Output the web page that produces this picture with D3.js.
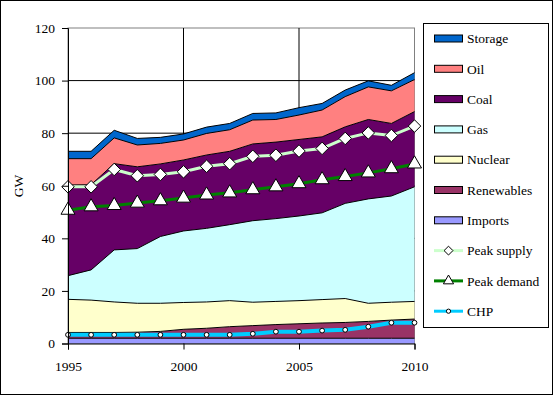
<!DOCTYPE html>
<html>
<head>
<meta charset="utf-8">
<script src="https://cdn.jsdelivr.net/npm/d3@7"></script>
<style>
  body { margin: 0; background: #fff; }
</style>
</head>
<body>
<div id="chart"></div>
<script>
// data (GW)
const years = [1995,1996,1997,1998,1999,2000,2001,2002,2003,2004,2005,2006,2007,2008,2009,2010];

const imports    = [2.0,2.0,2.0,2.0,2.0,2.0,2.0,2.0,2.0,2.0,2.0,2.0,2.0,2.0,2.0,2.0];
const renewables = [2.2,2.2,2.2,2.3,2.6,3.4,3.8,4.4,4.8,5.2,5.5,5.8,6.0,6.4,6.9,7.3];
const nuclear    = [12.6,12.3,11.6,11.0,10.7,10.2,10.0,9.9,8.9,8.8,8.8,8.9,9.1,6.9,6.8,6.7];
const gas        = [9.0,11.5,19.8,20.8,25.4,27.2,28.0,28.9,31.0,31.5,32.2,33.0,36.2,39.7,40.4,43.6];
const coal       = [34.5,32.4,32.8,31.1,27.6,27.0,27.9,27.9,29.2,29.1,29.1,28.9,29.1,30.2,27.6,28.6];
const oil        = [10.0,9.9,9.8,8.3,7.8,7.6,8.2,8.2,9.1,8.6,9.3,10.2,11.5,12.4,12.4,12.2];
const storage    = [2.8,2.8,2.9,2.5,2.3,2.3,2.4,2.4,2.5,2.5,2.8,2.5,2.5,2.3,2.1,2.6];

const peakSupply = [59.6,59.6,66.2,63.8,64.3,65.3,67.4,68.4,71.2,71.6,73.2,74.2,78.0,80.1,79.1,82.7];
const peakDemand = [50.7,52.0,52.5,53.4,54.3,55.3,56.5,57.3,58.5,59.6,60.8,62.3,63.5,64.9,66.5,68.3];
const chp        = [3.3,3.3,3.3,3.3,3.3,3.3,3.3,3.3,3.7,4.5,4.5,4.9,5.2,6.4,7.9,7.9];

const yTicks = [0,20,40,60,80,100,120];
const xTicks = [1995,2000,2005,2010];

const layerNames = ['Imports','Renewables','Nuclear','Gas','Coal','Oil','Storage'];
const layerColors = {
    Imports: '#9999ff', Renewables: '#993366', Nuclear: '#ffffcc', Gas: '#ccffff',
    Coal: '#660066', Oil: '#ff8080', Storage: '#0066cc'
};

const table = years.map((yr, i) => ({
    year: yr, Imports: imports[i], Renewables: renewables[i], Nuclear: nuclear[i],
    Gas: gas[i], Coal: coal[i], Oil: oil[i], Storage: storage[i]
}));

var W = 553, H = 395;
var svg = d3.select('#chart').append('svg')
    .attr('width', W)
    .attr('height', H)
    .attr('font-family', 'Liberation Serif')
    .attr('font-size', 13.5);

// outer frame
svg.append('rect')
    .attr('x', 0.5).attr('y', 0.5)
    .attr('width', W - 1).attr('height', H - 1)
    .attr('fill', '#fff').attr('stroke', '#000');

var x = d3.scaleLinear().domain([1995, 2010]).range([68, 414.5]);
var y = d3.scaleLinear().domain([0, 120]).range([343.5, 28]);

// plot border (grey top/right)
svg.append('rect')
    .attr('x', x(1995)).attr('y', y(120))
    .attr('width', x(2010) - x(1995)).attr('height', y(0) - y(120))
    .attr('fill', 'none').attr('stroke', '#808080');

// gridlines
svg.append('g').selectAll('line')
    .data(yTicks.filter(d => d > 0 && d < 120))
    .enter().append('line')
      .attr('x1', x(1995)).attr('x2', x(2010))
      .attr('y1', d => y(d)).attr('y2', d => y(d))
      .attr('stroke', '#000');
svg.append('g').selectAll('line')
    .data(xTicks.filter(d => d > 1995 && d < 2010))
    .enter().append('line')
      .attr('x1', d => x(d)).attr('x2', d => x(d))
      .attr('y1', y(0)).attr('y2', y(120))
      .attr('stroke', '#000');

// stacked areas
var series = d3.stack().keys(layerNames)(table);

var area = d3.area()
    .x(d => x(d.data.year))
    .y0(d => y(d[0]))
    .y1(d => y(d[1]));
var topLine = d3.line()
    .x(d => x(d.data.year))
    .y(d => y(d[1]));

svg.append('g').selectAll('path')
    .data(series)
    .enter().append('path')
      .attr('d', area)
      .attr('fill', d => layerColors[d.key]);

svg.append('g').selectAll('path')
    .data(series)
    .enter().append('path')
      .attr('d', topLine)
      .attr('fill', 'none')
      .attr('stroke', '#000')
      .attr('stroke-width', 1);

// lines with markers
function drawLine(values, color, width) {
    var line = d3.line()
        .x((d, i) => x(years[i]))
        .y(d => y(d));
    svg.append('path')
        .datum(values)
        .attr('d', line)
        .attr('fill', 'none')
        .attr('stroke', color)
        .attr('stroke-width', width);
}

function drawMarkers(values, symbolType, size) {
    svg.append('g').selectAll('path')
        .data(values)
        .enter().append('path')
          .attr('d', d3.symbol().type(symbolType).size(size))
          .attr('transform', (d, i) => `translate(${x(years[i])},${y(d)})`)
          .attr('fill', '#fff')
          .attr('stroke', '#000')
          .attr('stroke-width', 1);
}

drawLine(peakSupply, '#ccffcc', 3);
drawMarkers(peakSupply, d3.symbolDiamond2, 100);
drawLine(peakDemand, '#008000', 3);
drawMarkers(peakDemand, d3.symbolTriangle, 85);
drawLine(chp, '#00ccff', 4);
drawMarkers(chp, d3.symbolCircle, 18);

// axes
var yAxis = svg.append('g')
    .attr('transform', `translate(${x(1995)},0)`)
    .call(d3.axisLeft(y).tickValues(yTicks).tickSize(6).tickPadding(7));
var xAxis = svg.append('g')
    .attr('transform', `translate(0,${y(0)})`)
    .call(d3.axisBottom(x).tickValues(xTicks).tickFormat(d3.format('d')).tickSize(6).tickPadding(12));
[yAxis, xAxis].forEach(a => {
    a.attr('font-size', null).attr('font-family', null);
    a.selectAll('path,line').attr('stroke', '#000');
    a.selectAll('text').attr('fill', '#000');
});

svg.append('text')
    .attr('transform', 'translate(23,186) rotate(-90)')
    .attr('text-anchor', 'middle')
    .text('GW');

// legend
var legendItems = [
    { name: 'Storage', type: 'area' },
    { name: 'Oil', type: 'area' },
    { name: 'Coal', type: 'area' },
    { name: 'Gas', type: 'area' },
    { name: 'Nuclear', type: 'area' },
    { name: 'Renewables', type: 'area' },
    { name: 'Imports', type: 'area' },
    { name: 'Peak supply', type: 'line', color: '#ccffcc', sym: d3.symbolDiamond2, size: 50, w: 3 },
    { name: 'Peak demand', type: 'line', color: '#008000', sym: d3.symbolTriangle, size: 45, w: 3 },
    { name: 'CHP', type: 'line', color: '#00ccff', sym: d3.symbolCircle, size: 14, w: 3 }
];

svg.append('rect')
    .attr('x', 423.5).attr('y', 23.5)
    .attr('width', 125).attr('height', 304)
    .attr('fill', '#fff').attr('stroke', '#000');

var lg = svg.append('g').selectAll('g')
    .data(legendItems)
    .enter().append('g')
      .attr('transform', (d, i) => `translate(434,${38.5 + i * 30.3})`);

lg.filter(d => d.type === 'area').append('rect')
    .attr('x', 0.5).attr('y', -3.5)
    .attr('width', 28).attr('height', 7)
    .attr('fill', d => layerColors[d.name])
    .attr('stroke', '#000');

lg.filter(d => d.type === 'line').append('line')
    .attr('x1', 0).attr('x2', 29)
    .attr('y1', 0).attr('y2', 0)
    .attr('stroke', d => d.color)
    .attr('stroke-width', d => d.w);

lg.filter(d => d.type === 'line').append('path')
    .attr('d', d => d3.symbol().type(d.sym).size(d.size)())
    .attr('transform', 'translate(14.5,0)')
    .attr('fill', '#fff')
    .attr('stroke', '#000');

lg.append('text')
    .attr('x', 33)
    .attr('dy', '0.35em')
    .text(d => d.name);
</script>
</body>
</html>
